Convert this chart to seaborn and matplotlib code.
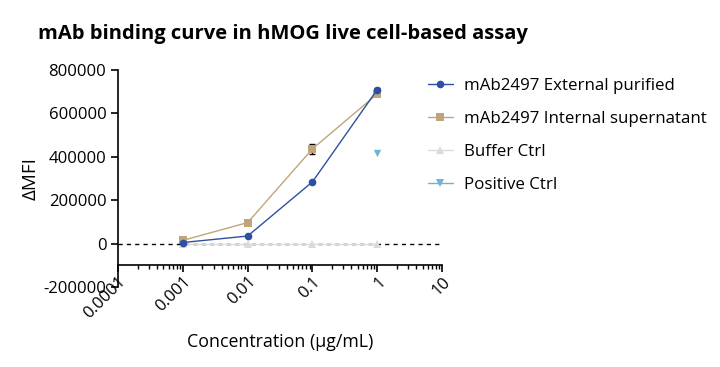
import numpy as np
import pandas as pd
import matplotlib
matplotlib.use("Agg")
import matplotlib.pyplot as plt
import matplotlib.ticker as mticker
from matplotlib.lines import Line2D
import seaborn as sns

conc = [0.001, 0.01, 0.1, 1]
ext_purified = [5000, 35000, 285000, 710000]
ext_err = [3000, 4000, 5000, 8000]
int_supernatant = [15000, 97000, 437000, 690000]
int_err = [4000, 6000, 22000, 6000]
buffer_ctrl = [-3000, -3000, -3000, -3000]
pos_conc = [1]
pos_ctrl = [420000]

series_names = ["mAb2497 External purified", "mAb2497 Internal supernatant",
                "Buffer Ctrl", "Positive Ctrl"]
colors = ["#2F4FA2", "#BFA57B", "#DADADA", "#6DB4D0"]
markers = ["o", "s", "^", "v"]
xtick_vals = [0.0001, 0.001, 0.01, 0.1, 1, 10]
xtick_labels = ["0.0001", "0.001", "0.01", "0.1", "1", "10"]

sns.set_style("ticks")
plt.rcParams['font.family'] = ['Open Sans', 'DejaVu Sans']
plt.rcParams['text.color'] = 'black'
plt.rcParams['axes.labelcolor'] = 'black'
plt.rcParams['xtick.color'] = 'black'
plt.rcParams['ytick.color'] = 'black'
plt.rcParams['axes.edgecolor'] = 'black'

fig = plt.figure(figsize=(7.2, 3.67), dpi=100)
ax = fig.add_axes([0.164, 0.218, 0.45, 0.591])

df = pd.concat([
    pd.DataFrame({'conc': conc, 'val': ext_purified, 'series': series_names[0]}),
    pd.DataFrame({'conc': conc, 'val': int_supernatant, 'series': series_names[1]}),
    pd.DataFrame({'conc': conc, 'val': buffer_ctrl, 'series': series_names[2]}),
])

ax.axhline(0, color='black', ls=(0, (3, 3)), lw=1, zorder=1)

for name, c, m, err in [(series_names[2], colors[2], markers[2], None),
                        (series_names[1], colors[1], markers[1], int_err),
                        (series_names[0], colors[0], markers[0], ext_err)]:
    sub = df[df.series == name]
    if err is not None:
        ax.errorbar(sub.conc, sub.val, yerr=err, fmt='none', ecolor='black',
                    elinewidth=1, capsize=2.5, zorder=2)
    sns.lineplot(data=sub, x='conc', y='val', color=c, marker=m, markersize=5.5,
                 markeredgewidth=0, lw=1, ax=ax, label=name, zorder=3)

sns.scatterplot(x=pos_conc, y=pos_ctrl, color=colors[3], marker=markers[3],
                s=28, linewidth=0, ax=ax, zorder=3)

ax.set_xscale('log')
ax.set_xlim(0.0001, 10)
ax.set_ylim(-200000, 800000)
ax.set_yticks([-200000, 0, 200000, 400000, 600000, 800000])
ax.yaxis.set_major_formatter(mticker.FuncFormatter(lambda v, p: f"{int(v)}"))
ax.xaxis.set_major_locator(mticker.FixedLocator(xtick_vals))
ax.xaxis.set_major_formatter(mticker.FixedFormatter(xtick_labels))
ax.xaxis.set_minor_locator(mticker.LogLocator(base=10, subs=np.arange(2, 10)))
ax.xaxis.set_minor_formatter(mticker.NullFormatter())

ax.spines['top'].set_visible(False)
ax.spines['right'].set_visible(False)
ax.spines['bottom'].set_position(('data', -100000))
for s in ['left', 'bottom']:
    ax.spines[s].set_linewidth(1.2)
ax.tick_params(axis='both', which='major', labelsize=12, length=5, width=1.2)
ax.tick_params(axis='x', which='minor', length=3, width=1)
ax.tick_params(axis='x', which='major', pad=1)
plt.setp(ax.get_xticklabels(), rotation=45, ha='right', rotation_mode='anchor')

ax.set_xlabel("Concentration (μg/mL)", fontsize=12.8, labelpad=8)
ax.set_ylabel("ΔMFI", fontsize=13.5, labelpad=3)

handles, labels = ax.get_legend_handles_labels()
h = [handles[labels.index(n)] for n in series_names[:3]]
h.append(Line2D([], [], color=colors[3], marker=markers[3], lw=1, markersize=5.5,
                markeredgewidth=0))
ax.legend(h, series_names, loc='upper left', bbox_to_anchor=(0.957, 0.965),
          frameon=False, fontsize=12.2, handlelength=1.45, labelspacing=1.0,
          handletextpad=0.65, borderpad=0, borderaxespad=0)

fig.text(0.053, 0.895, "mAb binding curve in hMOG live cell-based assay",
         fontsize=14.5, fontweight='bold')

fig.savefig("out.png", dpi=100)
